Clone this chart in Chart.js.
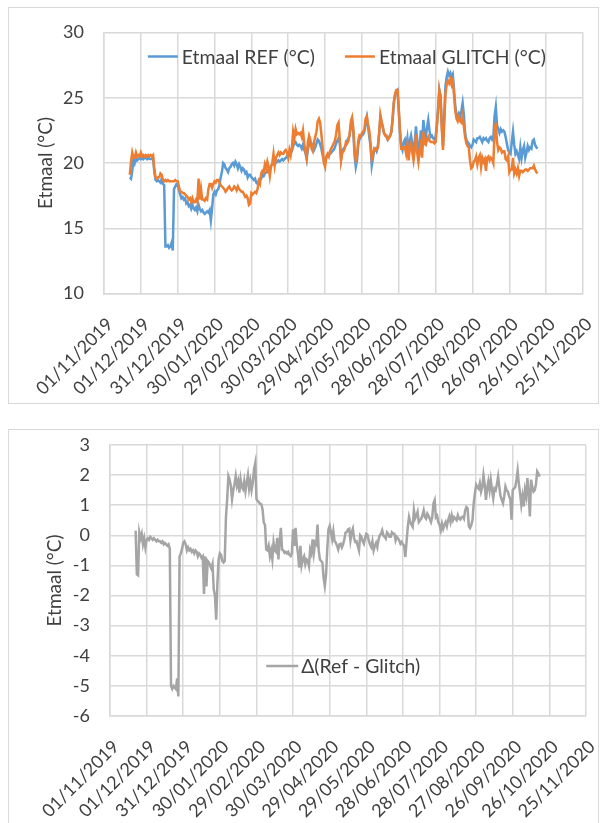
<!DOCTYPE html>
<html><head><meta charset="utf-8">
<script src="https://cdn.jsdelivr.net/npm/chart.js@4.4.1/dist/chart.umd.min.js"></script>
<style>
html,body{margin:0;padding:0;background:#fff;overflow:hidden;width:601px;height:823px;}
.box{position:absolute;border:1px solid #d9d9d9;box-sizing:border-box;}
canvas{position:absolute;}
</style></head><body>
<div class="box" style="left:8px;top:7px;width:591px;height:397px;"></div>
<div class="box" style="left:8px;top:429px;width:591px;height:400px;"></div>
<canvas id="c1" width="590" height="396" style="left:8px;top:7px;width:590px;height:396px"></canvas>
<canvas id="c2" width="590" height="394" style="left:8px;top:429px;width:590px;height:394px"></canvas>
<script>
// x positions are days since 01/11/2019
const dateTickLabels = ['01/11/2019','01/12/2019','31/12/2019','30/01/2020','29/02/2020','30/03/2020','29/04/2020','29/05/2020','28/06/2020','28/07/2020','27/08/2020','26/09/2020','26/10/2020','25/11/2020'];
const tickStepDays = 30;
const firstDay = 21; // 22/11/2019

const refValues = [
 18.9,18.8,19.4,20.3,20.0,20.4,20.2,20.3,20.4,20.3,
 20.4,20.3,20.4,20.4,20.3,20.4,20.3,20.3,20.3,20.3,
 19.3,18.7,18.6,18.7,18.6,18.5,18.8,18.4,18.3,13.6,
 13.6,13.7,13.5,13.6,13.9,13.3,18.0,18.2,18.4,18.4,
 17.9,17.6,17.3,17.4,17.2,17.3,16.9,17.0,16.7,16.8,
 16.5,16.8,16.5,16.4,16.6,16.3,16.8,16.5,16.3,16.4,
 16.2,16.1,16.2,16.3,16.2,16.4,15.6,16.5,17.6,17.8,
 17.6,17.9,18.0,18.3,18.9,19.3,20.0,19.9,19.6,19.5,
 19.3,19.6,19.7,19.9,20.0,19.8,20.1,19.9,19.6,19.9,
 19.7,19.4,19.6,19.5,19.2,19.3,18.9,19.1,19.1,18.9,
 18.8,18.7,18.8,18.5,18.4,18.6,18.8,18.8,19.1,19.0,
 19.2,19.3,19.3,19.5,19.6,19.8,19.9,19.9,20.0,20.0,
 20.1,20.2,20.1,20.2,20.3,20.2,20.3,20.4,20.5,20.6,
 20.7,20.8,20.9,21.3,21.5,21.6,21.4,21.3,21.4,21.3,
 21.1,21.4,21.0,20.8,20.3,21.0,21.5,21.6,21.5,21.2,
 21.0,21.2,21.5,21.8,21.7,21.4,21.1,20.6,20.2,20.0,
 20.4,20.6,20.6,20.7,20.8,20.9,21.0,21.2,21.5,21.7,
 21.9,21.5,20.3,20.9,21.1,21.2,21.4,21.7,21.9,22.1,
 22.9,23.1,22.4,20.6,19.7,20.2,21.4,21.8,22.0,22.1,
 22.2,22.4,23.0,23.5,22.8,22.0,21.3,19.8,20.4,21.0,
 21.1,20.9,21.3,22.3,23.4,23.1,22.7,22.3,22.1,22.0,
 21.8,22.0,22.1,22.4,23.3,24.6,25.2,25.5,25.6,24.0,
 22.3,21.3,21.0,21.6,21.8,21.3,21.9,20.8,21.7,22.1,
 21.5,20.8,21.6,22.8,21.7,20.6,21.5,22.5,21.2,23.3,
 22.4,22.0,22.7,23.3,22.5,22.0,22.1,21.9,21.8,22.0,
 22.9,24.2,25.6,25.2,23.0,21.3,23.6,25.9,26.6,27.0,
 26.7,26.9,26.6,26.8,25.6,24.4,23.7,23.5,23.8,23.6,
 24.0,24.6,23.7,22.3,21.8,21.6,21.5,21.3,21.2,21.4,
 21.8,21.7,21.6,21.9,21.9,22.0,21.8,21.6,21.9,21.8,
 21.9,21.7,21.6,21.9,22.0,21.8,22.0,23.6,24.3,22.9,
 22.6,22.3,22.6,22.4,22.5,22.4,22.0,21.5,21.0,20.8,
 20.7,21.6,22.4,21.4,20.7,20.9,20.6,20.3,21.2,20.4,
 21.0,21.3,20.4,20.8,21.3,21.0,21.2,21.1,21.7,21.8,
 21.4,21.2,21.1
];
const glitchValues = [
 19.1,20.1,20.8,20.4,20.4,20.8,20.5,20.6,20.5,20.8,
 20.5,20.6,20.5,20.6,20.5,20.6,20.5,20.6,20.5,20.6,
 19.5,18.9,18.8,18.9,18.9,19.2,19.1,18.7,18.6,18.7,
 18.6,18.7,18.6,18.6,18.6,18.6,18.6,18.7,18.6,18.6,
 18.2,17.8,17.8,17.7,17.7,17.6,17.5,17.4,17.2,17.3,
 17.0,17.3,17.0,17.0,17.2,17.0,18.8,17.2,18.0,17.2,
 17.2,17.1,17.3,17.2,18.0,18.4,18.4,18.1,18.4,18.6,
 18.5,18.7,18.7,18.5,18.3,18.2,18.1,18.0,17.8,17.9,
 18.1,18.2,18.0,17.9,18.0,18.2,18.1,17.9,18.2,18.0,
 17.9,17.8,17.8,17.6,17.4,17.5,17.3,16.8,16.9,17.7,
 17.6,17.7,17.8,17.7,18.0,18.6,18.4,19.2,19.4,19.3,
 19.9,19.6,20.1,19.7,19.0,19.7,20.0,20.7,19.8,20.4,
 20.6,20.8,20.6,20.8,20.7,20.7,20.9,21.0,20.8,20.4,
 21.0,20.6,21.2,22.4,21.9,22.6,22.2,22.3,22.2,22.3,
 22.0,22.5,21.5,20.9,20.4,21.6,22.1,21.8,21.1,20.9,
 21.6,22.0,22.4,23.2,23.4,23.1,22.2,21.2,20.0,19.7,
 20.5,20.7,20.5,20.9,21.1,21.3,21.5,21.7,22.2,22.9,
 23.1,21.8,20.2,20.8,20.9,21.1,21.6,21.5,21.7,22.2,
 23.2,23.5,22.6,21.1,20.2,20.5,21.7,22.1,22.0,22.3,
 22.4,22.6,23.4,23.6,22.9,22.5,21.5,20.3,20.6,21.1,
 21.0,21.0,21.2,22.2,23.7,23.2,22.8,22.3,22.1,22.1,
 21.8,21.9,22.1,22.4,23.5,24.7,25.3,25.6,25.6,24.1,
 22.5,21.1,21.1,21.2,21.2,20.7,21.4,20.2,21.2,21.5,
 20.8,20.2,21.0,22.2,20.8,20.1,20.9,21.8,20.4,22.4,
 21.5,21.4,21.8,22.0,21.7,21.6,21.6,21.6,21.5,21.6,
 22.8,24.0,25.6,25.0,22.7,21.0,23.0,25.3,26.0,26.3,
 26.1,26.4,26.0,26.3,25.2,24.0,23.4,23.2,23.5,23.2,
 23.1,23.6,22.8,22.0,21.5,21.3,21.2,20.2,19.6,19.7,
 20.1,20.2,20.5,19.9,20.4,20.6,19.7,20.4,20.1,20.3,
 19.4,20.4,20.5,20.2,20.4,20.3,20.0,22.4,23.1,21.6,
 21.0,21.2,21.1,20.8,20.9,20.9,20.3,20.2,20.5,19.3,
 19.5,19.5,20.4,19.2,19.5,19.2,19.6,19.0,19.4,19.4,
 19.3,19.4,19.5,19.5,19.4,19.5,19.6,19.6,19.6,19.8,
 19.5,19.3,19.2
];
const deltaValues = [
 0.15,-1.3,-1.33,0.1,-0.1,0.05,-0.3,-0.1,-0.4,-0.15,
 -0.1,-0.15,-0.05,-0.1,-0.15,-0.1,-0.15,-0.2,-0.15,-0.2,
 -0.2,-0.25,-0.2,-0.3,-0.25,-0.3,-0.35,-0.3,-0.45,-5.0,
 -5.1,-5.0,-5.05,-5.1,-4.75,-5.35,-0.7,-0.6,-0.45,-0.25,
 -0.2,-0.3,-0.5,-0.4,-0.5,-0.45,-0.55,-0.5,-0.6,-0.5,
 -0.55,-0.7,-0.6,-0.65,-0.75,-0.7,-1.95,-0.7,-1.7,-0.85,
 -0.9,-1.0,-1.1,-0.95,-1.8,-2.0,-2.8,-1.6,-0.8,-0.6,
 -0.65,-0.85,-0.9,-0.85,0.6,1.2,1.97,1.85,1.64,1.2,
 1.5,1.7,1.97,1.65,1.8,1.42,1.86,1.6,1.53,1.8,
 1.47,1.75,2.0,1.55,1.8,1.5,1.75,2.2,2.4,1.2,
 1.14,1.1,1.05,1.03,0.86,0.42,0.35,-0.47,-0.5,-0.35,
 -0.69,-0.5,-0.8,-0.24,-0.5,-0.55,-0.08,-0.8,-0.2,0.25,
 -0.47,-0.5,-0.58,-0.55,-0.6,-0.55,-0.65,-0.69,-0.6,0.2,
 -0.35,0.25,-0.3,-0.6,-1.07,-0.35,-1.0,-0.8,-0.7,-0.96,
 -0.8,-0.85,-1.02,-0.47,-0.6,-0.13,-0.58,-0.24,-0.3,0.36,
 -0.5,-0.8,-0.85,-0.9,-1.4,-1.68,-1.3,-0.47,0.2,0.31,
 0.1,-0.13,0.14,-0.2,-0.24,-0.35,-0.47,-0.3,-0.28,-0.4,
 -0.3,-0.13,0.09,0.11,0.2,0.22,-0.17,0.1,0.22,-0.11,
 -0.22,-0.2,-0.35,-0.5,0.0,-0.05,-0.2,-0.28,-0.1,0.05,
 0.02,-0.17,-0.3,-0.39,-0.2,-0.5,-0.35,-0.25,-0.39,-0.15,
 0.0,0.05,0.17,0.0,-0.05,-0.11,0.1,0.05,-0.05,-0.05,
 0.1,0.05,0.05,-0.17,-0.05,-0.1,-0.17,-0.28,-0.22,-0.3,
 -0.35,-0.72,-0.2,0.28,0.61,0.44,0.35,0.28,0.83,0.56,
 0.65,0.78,0.44,0.5,0.55,0.67,0.83,0.6,0.55,0.72,
 0.65,0.55,0.44,0.6,1.06,1.17,0.6,0.65,0.44,0.35,
 0.17,0.39,0.22,0.35,0.44,0.3,0.5,0.63,0.44,0.67,
 0.5,0.6,0.55,0.5,0.67,0.55,0.52,0.6,0.62,0.55,
 0.83,0.94,0.9,0.3,0.24,0.35,0.5,1.06,1.4,1.68,
 1.6,1.55,1.73,1.45,1.6,2.0,1.7,1.18,1.55,1.79,
 1.5,1.84,1.5,1.23,1.55,1.5,1.7,1.95,1.6,1.3,
 1.18,1.07,1.3,1.62,1.5,1.45,1.3,1.2,0.52,1.51,
 1.55,1.6,1.84,2.15,1.7,1.4,1.01,1.3,0.96,1.5,
 1.3,1.9,1.4,0.63,1.85,1.6,1.45,1.5,1.7,2.12,
 2.05,1.95
];

const FONT = 'Lato, "Noto Sans", "DejaVu Sans", sans-serif';
const TXT = '#404040';
const GRID = '#d9d9d9';

function toPoints(vals){ return vals.map((v,i)=>({x: firstDay + i, y: v})); }

const inAreaLegend = {
  id:'inAreaLegend',
  afterDatasetsDraw(chart, args, o){
    const {ctx, chartArea:a} = chart;
    ctx.save();
    ctx.font = o.fontSize + 'px ' + FONT;
    const items = chart.data.datasets.map(d=>({t:d.label,c:d.borderColor,w:ctx.measureText(d.label).width}));
    const total = items.reduce((s,it)=>s+o.sample+o.gap+it.w,0) + o.itemGap*(items.length-1);
    let x = a.left + (a.right-a.left)*o.cx - total/2;
    const y = a.top + o.dy;
    items.forEach(it=>{
      ctx.strokeStyle = it.c; ctx.lineWidth = 2.5;
      ctx.beginPath(); ctx.moveTo(x,y); ctx.lineTo(x+o.sample,y); ctx.stroke();
      x += o.sample + o.gap;
      ctx.fillStyle = TXT; ctx.textBaseline = 'middle'; ctx.textAlign='left';
      ctx.fillText(it.t, x, y+1);
      x += it.w + o.itemGap;
    });
    ctx.restore();
  }
};

function xScale(h){
  return {
    type:'linear', min:0, max: tickStepDays*(dateTickLabels.length-1),
    afterBuildTicks: s => { s.ticks = dateTickLabels.map((l,i)=>({value:i*tickStepDays})); },
    ticks:{autoSkip:false, maxRotation:45, minRotation:45, padding:20, labelOffset:6, color:TXT,
      font:{family:FONT,size:18}, callback:(v)=>dateTickLabels[Math.round(v/tickStepDays)]},
    grid:{color:GRID, lineWidth:1.5, drawTicks:false},
    border:{color:GRID, width:1.5},
    afterFit: s => { s.height = h; s.paddingLeft = 0; s.paddingRight = 0; }
  };
}
function yScale(min,max,step,w,titlePad){
  return {
    min, max,
    ticks:{stepSize:step, padding:20, color:TXT, font:{family:FONT,size:18}},
    grid:{color:GRID, lineWidth:1.5, drawTicks:false},
    border:{color:GRID, width:1.5},
    title:{display:true, text:'Etmaal (°C)', color:TXT, font:{family:FONT,size:19}, padding:{top:titlePad,bottom:0}},
    afterFit: s => { s.width = w; s.paddingTop = 0; s.paddingBottom = 0; }
  };
}

new Chart(document.getElementById('c1'), {
  type:'line',
  data:{datasets:[
    {label:'Etmaal REF (°C)', data:toPoints(refValues), borderColor:'#5B9BD5', borderWidth:2.5, pointRadius:0, tension:0, order:1},
    {label:'Etmaal GLITCH (°C)', data:toPoints(glitchValues), borderColor:'#ED7D31', borderWidth:2.5, pointRadius:0, tension:0, order:0}
  ]},
  options:{responsive:false, animation:false, events:[],
    layout:{padding:{top:25.5,right:15,left:0,bottom:0}},
    plugins:{legend:{display:false}, tooltip:{enabled:false},
      inAreaLegend:{fontSize:19.4, sample:30, gap:4, itemGap:30, cx:0.507, dy:24}},
    scales:{x:xScale(109.5), y:yScale(10,30,5,96,26.5)}
  },
  plugins:[inAreaLegend]
});

new Chart(document.getElementById('c2'), {
  type:'line',
  data:{datasets:[
    {label:'Δ(Ref - Glitch)', data:toPoints(deltaValues), borderColor:'#A5A5A5', borderWidth:2.5, pointRadius:0, tension:0}
  ]},
  options:{responsive:false, animation:false, events:[],
    layout:{padding:{top:16,right:12,left:0,bottom:0}},
    plugins:{legend:{display:false}, tooltip:{enabled:false},
      inAreaLegend:{fontSize:19.4, sample:32, gap:3, itemGap:30, cx:0.49, dy:221}},
    scales:{x:xScale(107), y:yScale(-6,3,1,102,35.5)}
  },
  plugins:[inAreaLegend]
});
</script>
</body></html>
